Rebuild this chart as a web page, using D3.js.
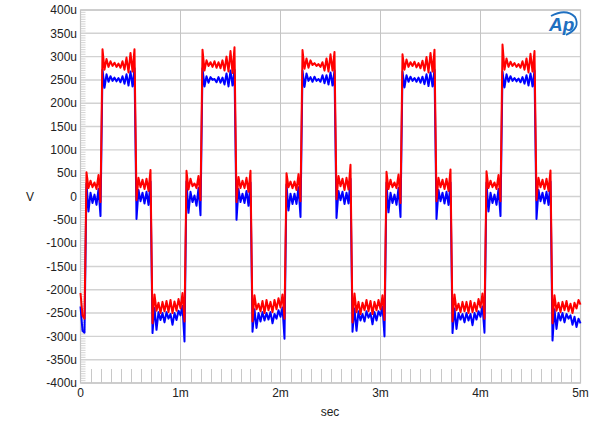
<!DOCTYPE html>
<html lang="en">
 <head>
 <meta http-equiv="Content-Type" content="text/html; charset=UTF-8">
        <title>Square wave response</title>
        <script type="text/javascript" src="https://unpkg.com/d3@7/dist/d3.min.js"></script>
        <style>
          body { margin: 0; background: #fff; }
          text { font-family: "Liberation Sans", Arial, sans-serif; }
        </style>
 </head>
 <body>
        <script type="text/javascript">

          // sampled every 0.02 ms, from 0 to 5 ms (values in uV)
          var sampleStart = 0;
          var sampleStep = 0.02;

          var redValues = [
            -207, -255, -262,
            52, 18, 34, 20, 30, 16, 46, -12,
            316, 272, 295, 278, 290, 280, 287, 278, 285, 276, 290, 272, 298, 266, 308, 268, 316,
            -8, 40, 20, 36, 16, 38, 12, 57,
            -272, -210, -245, -228, -250, -226, -246, -224, -248, -222, -250, -225, -245, -220, -240, -207, -268,
            55, 15, 38, 22, 28, 18, 44, -8,
            315, 270, 292, 280, 288, 278, 290, 276, 288, 275, 292, 270, 300, 268, 312, 265, 320,
            -12, 42, 18, 34, 18, 40, 10, 55,
            -268, -212, -242, -230, -246, -224, -250, -222, -244, -226, -248, -222, -242, -218, -238, -210, -262,
            50, 20, 32, 18, 32, 14, 48, -10,
            314, 274, 296, 276, 292, 282, 286, 280, 284, 278, 288, 270, 296, 268, 305, 270, 310,
            -6, 44, 22, 38, 14, 40, 15, 68,
            -270, -208, -248, -226, -252, -228, -244, -222, -246, -224, -252, -226, -244, -222, -242, -212, -265,
            53, 16, 36, 20, 30, 18, 47, -14,
            305, 272, 294, 278, 288, 280, 289, 277, 286, 275, 291, 270, 299, 266, 308, 268, 315,
            -10, 40, 20, 36, 16, 38, 12, 58,
            -268, -210, -244, -230, -248, -226, -246, -226, -250, -224, -248, -228, -246, -220, -238, -208, -262,
            54, 18, 34, 20, 30, 16, 46, -10,
            326, 272, 296, 278, 289, 280, 286, 278, 284, 276, 290, 272, 296, 266, 306, 268, 312,
            -8, 40, 20, 36, 16, 38, 12, 56,
            -272, -212, -245, -228, -248, -226, -244, -224, -246, -230, -250, -228, -240, -222, -232
          ];

          var blueValues = [
            -236, -288, -292,
            28, -32, 8, -14, 4, -18, 16, -42,
            272, 233, 262, 246, 258, 248, 255, 247, 254, 245, 258, 242, 262, 238, 268, 236, 275,
            -48, 14, -10, 8, -15, 10, -18, 32,
            -293, -239, -286, -248, -265, -250, -270, -248, -262, -252, -275, -250, -265, -245, -255, -235, -311,
            32, -35, 10, -12, 2, -20, 18, -40,
            275, 236, 258, 244, 256, 250, 252, 245, 256, 244, 255, 240, 264, 236, 270, 238, 272,
            -50, 16, -12, 6, -14, 12, -20, 30,
            -290, -242, -282, -250, -268, -248, -266, -250, -264, -248, -272, -252, -262, -244, -258, -238, -305,
            26, -30, 6, -16, 6, -16, 20, -44,
            270, 235, 264, 248, 256, 246, 257, 248, 252, 246, 260, 243, 260, 240, 266, 238, 270,
            -46, 12, -8, 10, -16, 8, -15, 38,
            -290, -240, -288, -246, -266, -252, -268, -246, -260, -250, -274, -248, -266, -246, -256, -236, -300,
            30, -34, 8, -14, 4, -18, 18, -44,
            268, 234, 260, 246, 257, 248, 254, 246, 255, 244, 257, 241, 262, 237, 266, 236, 272,
            -48, 14, -10, 8, -15, 10, -18, 30,
            -293, -240, -284, -250, -264, -252, -270, -250, -266, -252, -276, -250, -264, -246, -258, -236, -292,
            30, -32, 8, -14, 4, -18, 16, -42,
            268, 234, 262, 246, 258, 248, 254, 247, 253, 245, 256, 242, 260, 238, 264, 236, 270,
            -48, 14, -10, 8, -15, 10, -18, 32,
            -309, -242, -284, -250, -266, -250, -270, -252, -262, -255, -275, -258, -280, -262, -272
          ];

          var yTicks = [-400, -350, -300, -250, -200, -150, -100, -50, 0, 50, 100, 150, 200, 250, 300, 350, 400];
          var xTicks = [0, 1, 2, 3, 4, 5];

          var W = 600, H = 421;
          var plotLeft = 80.5, plotRight = 580.5, plotTop = 10, plotBottom = 383;

          var svg = d3.select("body").append("svg")
                      .attr("width", W)
                      .attr("height", H);

          var x = d3.scaleLinear().domain([0, 5]).range([plotLeft, plotRight]);
          var y = d3.scaleLinear().domain([-400, 400]).range([plotBottom, plotTop]);

          // minor ticks (left and bottom)
          var yMinor = d3.range(-400, 401, 5).filter((v) => v % 50 !== 0);
          svg.append("g").selectAll("line")
             .data(yMinor)
             .enter().append("line")
             .attr("x1", plotLeft).attr("x2", plotLeft + 5)
             .attr("y1", (d) => y(d)).attr("y2", (d) => y(d))
             .style("stroke", "#c8c8c8").style("stroke-width", 0.8);

          var xMinor = d3.range(1, 50).filter((v) => v % 10 !== 0).map((v) => v / 10);
          svg.append("g").selectAll("line")
             .data(xMinor)
             .enter().append("line")
             .attr("x1", (d) => Math.round(x(d)) + 0.5).attr("x2", (d) => Math.round(x(d)) + 0.5)
             .attr("y1", plotBottom).attr("y2", plotBottom - 14)
             .style("stroke", "#c8c8c8").style("stroke-width", 1);

          // grid
          svg.append("g").selectAll("line")
             .data(yTicks)
             .enter().append("line")
             .attr("x1", plotLeft).attr("x2", plotRight)
             .attr("y1", (d) => y(d)).attr("y2", (d) => y(d))
             .style("stroke", "#d2d2d2").style("stroke-width", 1.4);

          svg.append("g").selectAll("line")
             .data(xTicks)
             .enter().append("line")
             .attr("x1", (d) => x(d)).attr("x2", (d) => x(d))
             .attr("y1", plotTop).attr("y2", plotBottom)
             .style("stroke", "#c4c4c4").style("stroke-width", 1);

          svg.append("rect")
             .attr("x", plotLeft).attr("y", plotTop)
             .attr("width", plotRight - plotLeft).attr("height", plotBottom - plotTop)
             .style("fill", "none").style("stroke", "#c4c4c4").style("stroke-width", 1.2);

          // tick labels
          svg.append("g").selectAll("text")
             .data(yTicks)
             .enter().append("text")
             .attr("x", 77).attr("y", (d) => y(d))
             .attr("dy", "0.35em")
             .attr("text-anchor", "end")
             .style("font-size", "12px").style("fill", "#222")
             .text((d) => d === 0 ? "0" : d + "u");

          svg.append("g").selectAll("text")
             .data(xTicks)
             .enter().append("text")
             .attr("x", (d) => x(d)).attr("y", 397)
             .attr("text-anchor", "middle")
             .style("font-size", "12px").style("fill", "#222")
             .text((d) => d === 0 ? "0" : d + "m");

          svg.append("text").attr("x", 330).attr("y", 416)
             .attr("text-anchor", "middle")
             .style("font-size", "12px").style("fill", "#222")
             .text("sec");

          svg.append("text").attr("x", 30).attr("y", 197)
             .attr("dy", "0.35em").attr("text-anchor", "middle")
             .style("font-size", "12px").style("fill", "#222")
             .text("V");

          // traces
          var line = d3.line()
                       .x((d, i) => x(sampleStart + i * sampleStep))
                       .y((d) => y(d));

          svg.append("path").datum(blueValues)
             .attr("d", line)
             .style("fill", "none").style("stroke", "#0000ff").style("stroke-width", 2)
             .style("stroke-linejoin", "round");

          svg.append("path").datum(redValues)
             .attr("d", line)
             .style("fill", "none").style("stroke", "#ff0000").style("stroke-width", 2)
             .style("stroke-linejoin", "round");

          // logo
          var logo = svg.append("g");
          logo.append("text").attr("x", 549).attr("y", 31)
              .style("font-size", "19px").style("font-style", "italic")
              .style("font-weight", "bold").style("fill", "#1e6fc0")
              .text("Ap");
          logo.append("path")
              .attr("d", "M551,16 Q566,8 575,17 Q581,28 566,35")
              .style("fill", "none").style("stroke", "#1e6fc0").style("stroke-width", 1.8);

        </script>
    </body>
</html>
